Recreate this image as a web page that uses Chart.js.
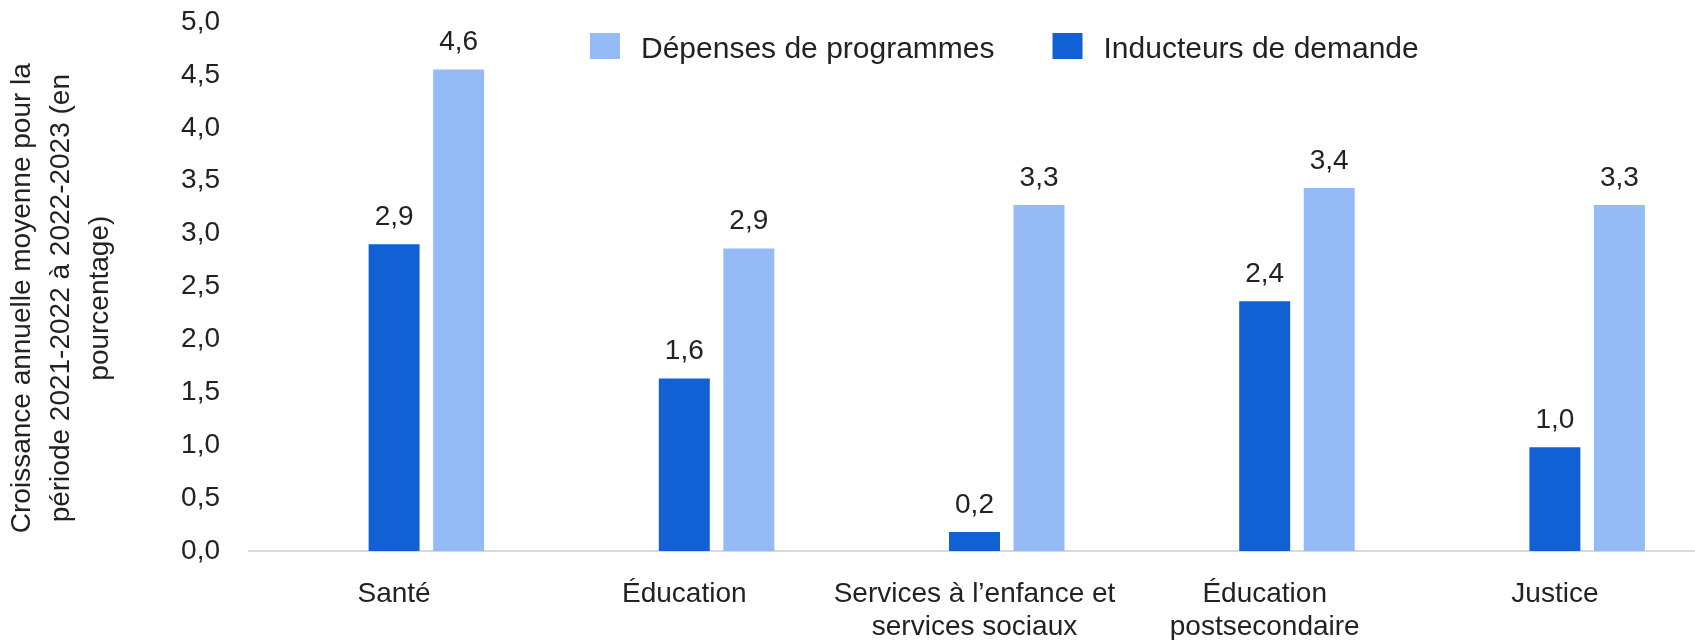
<!DOCTYPE html>
<html lang="fr">
<head>
<meta charset="utf-8">
<title>Croissance annuelle moyenne</title>
<script src="https://cdn.jsdelivr.net/npm/chart.js@4.4.1/dist/chart.umd.min.js"></script>
<style>
  html, body { margin: 0; padding: 0; background: #fff; overflow: hidden; }
  #wrap { width: 1700px; height: 640px; }
</style>
</head>
<body>
<div id="wrap"><canvas id="myChart"></canvas></div>
<script>
const categories = [
    ['Santé'],
    ['Éducation'],
    ['Services à l’enfance et', 'services sociaux'],
    ['Éducation', 'postsecondaire'],
    ['Justice']
];
const inducteurs = [2.9, 1.63, 0.18, 2.36, 0.98];
const depenses = [4.55, 2.86, 3.27, 3.43, 3.27];
const yTickLabels = ['0,0', '0,5', '1,0', '1,5', '2,0', '2,5', '3,0', '3,5', '4,0', '4,5', '5,0'];
const yTitle = ['Croissance annuelle moyenne pour la', 'période 2021-2022 à 2022-2023 (en', 'pourcentage)'];

const FONT = '"Liberation Sans", Arial, sans-serif';
const TEXT = '#222';

function formatValue(v) {
    return (Math.round(v * 10) / 10).toFixed(1).replace('.', ',');
}

// value above each bar
const valueLabels = {
    id: 'valueLabels',
    afterDatasetsDraw(chart) {
        const ctx = chart.ctx;
        ctx.save();
        ctx.font = '28px ' + FONT;
        ctx.fillStyle = TEXT;
        ctx.textAlign = 'center';
        ctx.textBaseline = 'middle';
        chart.data.datasets.forEach((ds, i) => {
            if (!ds.showValues) return;
            chart.getDatasetMeta(i).data.forEach((bar, j) => {
                ctx.fillText(formatValue(ds.data[j]), bar.x, bar.y - 27);
            });
        });
        ctx.restore();
    }
};

// legend drawn inside the plot, light series first
const topLegend = {
    id: 'topLegend',
    afterDraw(chart) {
        const ctx = chart.ctx;
        let x = 590;
        ctx.save();
        ctx.font = '30px ' + FONT;
        ctx.textBaseline = 'middle';
        [2, 1].forEach(i => {
            const ds = chart.data.datasets[i];
            ctx.fillStyle = ds.backgroundColor;
            ctx.fillRect(x, 33, 30, 26);
            ctx.fillStyle = TEXT;
            ctx.fillText(ds.label, x + 51, 50);
            x += 51 + ctx.measureText(ds.label).width + 58;
        });
        ctx.restore();
    }
};

const ctx = document.getElementById('myChart').getContext('2d');
const chart = new Chart(ctx, {
    type: 'bar',
    data: {
        labels: categories,
        datasets: [
            {
                label: '',
                data: categories.map(() => null),
                backgroundColor: 'rgba(0,0,0,0)'
            },
            {
                label: 'Inducteurs de demande',
                data: inducteurs,
                backgroundColor: '#1160d4',
                showValues: true
            },
            {
                label: 'Dépenses de programmes',
                data: depenses,
                backgroundColor: '#95bbf7',
                showValues: true
            }
        ]
    },
    options: {
        responsive: true,
        maintainAspectRatio: false,
        animation: false,
        categoryPercentage: 0.667,
        barPercentage: 0.79,
        layout: {
            padding: { top: 22, right: 0, bottom: 0, left: 0 }
        },
        plugins: {
            legend: { display: false },
            tooltip: { enabled: false }
        },
        scales: {
            x: {
                grid: { display: false, drawTicks: false },
                border: { display: true, color: '#d9d9d9', width: 2 },
                ticks: {
                    color: TEXT,
                    padding: 27,
                    maxRotation: 0,
                    autoSkip: false,
                    font: { family: FONT, size: 28, lineHeight: 1.18 }
                },
                afterFit(scale) {
                    scale.height = 89;
                    scale.paddingLeft = 0;
                    scale.paddingRight = 0;
                }
            },
            y: {
                min: 0,
                max: 5,
                grid: { display: false, drawTicks: false },
                border: { display: false },
                ticks: {
                    stepSize: 0.5,
                    color: TEXT,
                    padding: 29,
                    font: { family: FONT, size: 28 },
                    callback: (value, index) => yTickLabels[index]
                },
                title: {
                    display: true,
                    // trailing spaces nudge the rotated block a little lower
                    text: yTitle.map(t => t + '\u00a0\u00a0\u00a0'),
                    color: TEXT,
                    padding: { top: 3, bottom: 0 },
                    font: { family: FONT, size: 28, lineHeight: 1.39 }
                },
                afterFit(scale) {
                    scale.width = 249;
                    scale.paddingTop = 0;
                    scale.paddingBottom = 0;
                }
            }
        }
    },
    plugins: [valueLabels, topLegend]
});
</script>
</body>
</html>
